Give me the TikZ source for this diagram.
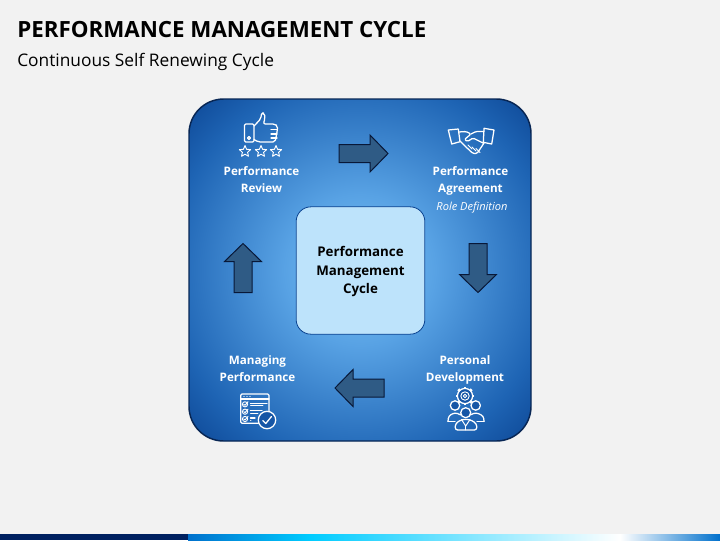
\documentclass[tikz,border=0pt]{standalone}
\usepackage{fontspec}
\setmainfont{Open Sans}
\usepackage{xcolor}
\usetikzlibrary{positioning}
\definecolor{pagegrey}{RGB}{242,242,242}
\definecolor{panelline}{RGB}{8,38,84}
\definecolor{panelinner}{RGB}{124,194,242}
\definecolor{panelmid}{RGB}{88,162,228}
\definecolor{paneledge}{RGB}{30,100,180}
\definecolor{panelouter}{RGB}{10,66,144}
\definecolor{corebox}{RGB}{189,227,251}
\definecolor{arrowfill}{RGB}{47,91,133}
\definecolor{arrowline}{RGB}{8,24,56}
\definecolor{barnavy}{RGB}{0,32,96}
\pgfdeclareradialshading{panelglow}{\pgfpoint{0bp}{0bp}}{color(0bp)=(panelinner); color(11bp)=(panelmid); color(28bp)=(paneledge); color(37bp)=(panelouter); color(60bp)=(panelouter)}
\tikzset{
	steplabel/.style={text=white,font=\fontsize{8.75}{12.8}\selectfont\bfseries,align=center,inner sep=0pt},
	iconline/.style={draw=white,line width=0.95pt,line join=round,line cap=round},
	turnarrow/.style={draw=arrowline,fill=arrowfill,line width=0.75pt,line join=miter}
}
\begin{document}
\begin{tikzpicture}[x=0.75pt,y=-0.75pt]
	\useasboundingbox (0,0) rectangle (720,540);
	\fill[pagegrey] (0,0) rectangle (720,540);
	% heading
	\node[anchor=west,inner sep=0pt,font=\fontsize{16.75}{20}\selectfont\bfseries] (title) at (17,30) {PERFORMANCE MANAGEMENT CYCLE};
	\node[anchor=west,inner sep=0pt,font=\fontsize{13}{16}\selectfont] (subtitle) at (17,62) {Continuous Self Renewing Cycle};
	% bottom bar
	\fill[barnavy] (0,534) rectangle (188,540);
	\shade[left color=blue!45!cyan!80!black,right color=cyan!80!blue] (188,534) rectangle (310,540);
	\shade[left color=cyan!80!blue,right color=white] (310,534) rectangle (620,540);
	\shade[left color=white,right color=blue!45!cyan!80!black] (620,534) rectangle (720,540);
	% panel
	\path[shading=panelglow,rounded corners=26pt] (189,99) rectangle (531,441);
	\draw[panelline,line width=1.1pt,rounded corners=26pt] (189,99) rectangle (531,441);
	% core
	\node[draw=panelouter,fill=corebox,rounded corners=11pt,minimum width=96.5pt,minimum height=95.5pt,line width=0.6pt,
		align=center,font=\fontsize{10}{14.2}\selectfont\bfseries,text depth=0pt] (core) at (360.5,270.5) {};
	\node[align=center,inner sep=0pt,font=\fontsize{10}{14.2}\selectfont\bfseries] (coretext) at (360.5,271.5) {Performance\\Management\\Cycle};
	% turn arrows
	\foreach \cx/\cy/\ang in {363.5/153.5/0,478/268/-90,359.5/388/180,243/268/90}{
		\draw[turnarrow,shift={(\cx,\cy)},rotate=\ang] (-24.5,-9) -- (6.5,-9) -- (6.5,-18.5) -- (24.5,0) -- (6.5,18.5) -- (6.5,9) -- (-24.5,9) -- cycle;
	}
	% labels
	\node[steplabel] (review) at (261.5,179.5) {Performance\\Review};
	\node[steplabel] (agreement) at (470.5,180.5) {Performance\\Agreement};
	\node[text=white,inner sep=0pt,font=\fontsize{8.3}{10}\selectfont\itshape] (role) at (472,207.5) {Role Definition};
	\node[steplabel] (managing) at (257.5,369) {Managing\\Performance};
	\node[steplabel] (personal) at (465,370) {Personal\\Development};
	% thumb icon
	\draw[iconline,rounded corners=1pt] (244.5,124) rectangle (254,142);
	\draw[iconline] (249,138) circle (1.5);
	\draw[iconline,rounded corners=1.5pt] (254,126) -- (260.7,119) -- (261.7,112.7) -- (264.5,113.3) -- (265,118.3) -- (263.3,124) -- (275,124) -- (277.5,126) -- (277.5,130) -- (276.5,134) -- (276,138) -- (275,142) -- (258.3,142) -- (254,139.5);
	\foreach \fy in {129.5,134,138}{
		\draw[iconline] (271,\fy) -- (277,\fy);
	}
	\foreach \sx in {245,261,276}{
		\draw[iconline,line width=0.7pt] (\sx,145.5) -- (\sx+1.6,149.3) -- (\sx+5.6,149.6) -- (\sx+2.6,152.3) -- (\sx+3.5,156.3) -- (\sx,154.2) -- (\sx-3.5,156.3) -- (\sx-2.6,152.3) -- (\sx-5.6,149.6) -- (\sx-1.6,149.3) -- cycle;
	}
	% handshake icon
	\draw[iconline] (448.3,130) -- (458.3,129) -- (460,141.7) -- (451.7,144) -- cycle;
	\draw[iconline] (484,128.3) -- (494,130) -- (491.7,144) -- (483.3,142.3) -- cycle;
	\draw[iconline,rounded corners=1pt] (458.5,132) -- (466,131.5) -- (471,134) -- (464.5,139.5) -- (467.5,141.5) -- (473,138) -- (483,143);
	\draw[iconline,rounded corners=1pt] (471,134) -- (476,131.5) -- (484,131.5);
	\draw[iconline,rounded corners=1pt] (460,141) -- (466,147) -- (473,153.5) -- (477,153.5) -- (484,143);
	\foreach \gx/\gy in {468/145,472/147,476/148.5}{
		\draw[iconline,line width=0.7pt] (\gx,\gy) -- (\gx+4,\gy+4);
	}
	% checklist icon
	\draw[iconline,rounded corners=1pt] (240.7,394) rectangle (269,423.3);
	\draw[iconline] (240.7,399) -- (269,399);
	\foreach \dx in {244,247,250}{
		\fill[white] (\dx,396.5) circle (0.7);
	}
	\foreach \ry/\rl in {404.3/267,411.7/262,419/255}{
		\draw[iconline,line width=0.7pt] (245,\ry) circle (2.6);
		\draw[iconline,line width=0.7pt] (243.8,\ry) -- (245,\ry+1) -- (248,\ry-2.5);
		\draw[iconline] (250.5,\ry-1) -- (\rl,\ry-1);
		\draw[iconline,line width=0.6pt] (250.5,\ry+1.5) -- (\rl-4,\ry+1.5);
	}
	\draw[iconline,fill=paneledge!60!panelouter] (267,420) circle (8.7);
	\draw[iconline] (262.8,420.5) -- (265.8,423.5) -- (271.5,416.5);
	% people icon
	\foreach \ga in {0,45,...,315}{
		\draw[iconline,line width=2pt,line cap=butt] (465,396) ++(\ga:7.5) -- ++(\ga:1.9);
	}
	\draw[iconline,fill=paneledge!60!panelouter] (465,396) circle (7.6);
	\draw[iconline,line width=0.7pt] (465,396) circle (4.2);
	\draw[iconline,line width=0.7pt] (465,396) circle (1.8);
	\draw[iconline,fill=paneledge!60!panelouter] (455,405.5) circle (4.7);
	\draw[iconline,fill=paneledge!60!panelouter] (475.7,405.5) circle (4.7);
	\draw[iconline,rounded corners=2pt] (448,421.5) -- (448.5,416) -- (455,412.5) -- (461,415);
	\draw[iconline,rounded corners=2pt] (484,421.5) -- (483.5,416) -- (476,412.5) -- (470,415);
	\draw[iconline] (448,421.5) -- (455,421.5);
	\draw[iconline] (477,421.5) -- (484,421.5);
	\draw[iconline,fill=paneledge!60!panelouter] (465.7,412.7) circle (5);
	\draw[iconline,rounded corners=2pt] (455,430) -- (455.5,423.5) -- (461.5,419.5) -- (470,419.5) -- (476.5,423.5) -- (477,430) -- cycle;
	\draw[iconline,line width=0.7pt] (461.5,419.5) -- (465.7,426) -- (470,419.5);
	\draw[iconline,line width=0.7pt] (465.7,426) -- (465.7,430);
\end{tikzpicture}
\end{document}
